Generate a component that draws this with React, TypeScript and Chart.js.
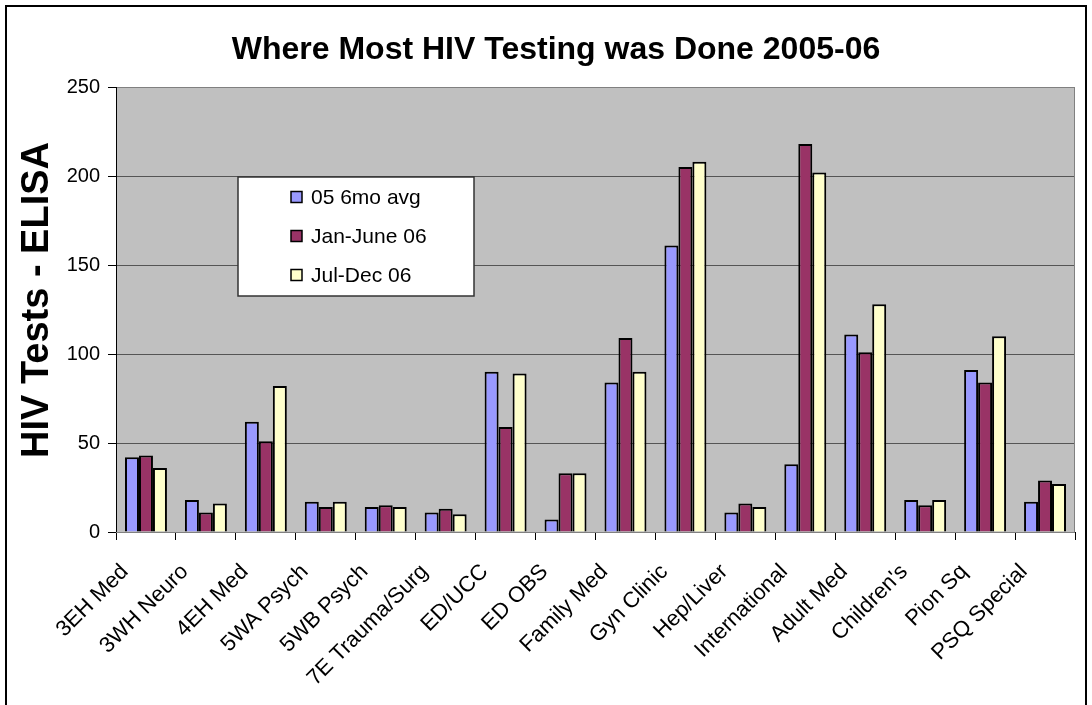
import React, { useEffect, useRef } from "react";
import { Chart, registerables } from "chart.js";

Chart.register(...registerables);

const categories = [
  "3EH Med", "3WH Neuro", "4EH Med", "5WA Psych", "5WB Psych", "7E Trauma/Surg",
  "ED/UCC", "ED OBS", "Family Med", "Gyn Clinic", "Hep/Liver", "International",
  "Adult Med", "Children's", "Pion Sq", "PSQ Special",
];
const series05Avg = [42, 18, 62, 17, 14, 11, 90, 7, 84, 161, 11, 38, 111, 18, 91, 17];
const seriesJanJun06 = [43, 11, 51, 14, 15, 13, 59, 33, 109, 205, 16, 218, 101, 15, 84, 29];
const seriesJulDec06 = [36, 16, 82, 17, 14, 10, 89, 33, 90, 208, 14, 202, 128, 18, 110, 27];
const seriesNames = ["05 6mo avg", "Jan-June 06", "Jul-Dec 06"];
const seriesColors = ["#9999FF", "#993366", "#FFFFCC"];
const yTicks = [0, 50, 100, 150, 200, 250];
const chartTitle = "Where Most HIV Testing was Done 2005-06";
const yTitle = "HIV Tests - ELISA";

const decorPlugin = {
  id: "decor",
  beforeDraw(chart: any) {
    const { ctx, chartArea } = chart;
    ctx.save();
    ctx.fillStyle = "#ffffff";
    ctx.fillRect(0, 0, chart.width, chart.height);
    ctx.fillStyle = "#C0C0C0";
    ctx.fillRect(chartArea.left, chartArea.top, chartArea.right - chartArea.left, chartArea.bottom - chartArea.top);
    ctx.restore();
  },
  afterDraw(chart: any) {
    const { ctx, chartArea } = chart;
    ctx.save();
    // plot area border
    ctx.strokeStyle = "#808080";
    ctx.lineWidth = 1;
    ctx.strokeRect(chartArea.left + 0.5, chartArea.top + 0.5, chartArea.right - chartArea.left - 1, chartArea.bottom - chartArea.top);
    // left axis line
    ctx.strokeStyle = "#000";
    ctx.beginPath();
    ctx.moveTo(chartArea.left + 0.5, chartArea.top);
    ctx.lineTo(chartArea.left + 0.5, chartArea.bottom);
    ctx.stroke();
    // outer frame
    ctx.strokeStyle = "#000";
    ctx.lineWidth = 2;
    ctx.strokeRect(6, 6, 1080, 720);
    // title
    ctx.fillStyle = "#000";
    ctx.font = "bold 32px Arial, 'Liberation Sans', sans-serif";
    ctx.textAlign = "center";
    ctx.textBaseline = "alphabetic";
    ctx.fillText(chartTitle, 556, 59);
    // y axis title
    ctx.save();
    ctx.translate(38, 300);
    ctx.rotate(-Math.PI / 2);
    ctx.font = "bold 38px Arial, 'Liberation Sans', sans-serif";
    ctx.textAlign = "center";
    ctx.textBaseline = "middle";
    ctx.fillText(yTitle, 0, 0);
    ctx.restore();
    // legend
    const lx = 238, ly = 177, lw = 236, lh = 119;
    ctx.fillStyle = "#fff";
    ctx.fillRect(lx, ly, lw, lh);
    ctx.strokeStyle = "#333";
    ctx.lineWidth = 1.5;
    ctx.strokeRect(lx, ly, lw, lh);
    ctx.font = "21px Arial, 'Liberation Sans', sans-serif";
    ctx.textAlign = "left";
    ctx.textBaseline = "middle";
    chart.data.datasets.forEach((ds: any, i: number) => {
      const cy = 197 + i * 39;
      ctx.fillStyle = ds.backgroundColor;
      ctx.fillRect(291, cy - 5.5, 11, 11);
      ctx.strokeStyle = "#000";
      ctx.lineWidth = 1.5;
      ctx.strokeRect(291, cy - 5.5, 11, 11);
      ctx.fillStyle = "#000";
      ctx.fillText(ds.label, 311, cy + 1);
    });
    ctx.restore();
  },
};

export default function App() {
  const ref = useRef<HTMLCanvasElement>(null);
  useEffect(() => {
    const canvas = ref.current;
    if (!canvas) return;
    const values = [series05Avg, seriesJanJun06, seriesJulDec06];
    const chart = new Chart(canvas, {
      type: "bar",
      data: {
        labels: categories,
        datasets: values.map((v, i) => ({
          label: seriesNames[i],
          data: v,
          backgroundColor: seriesColors[i],
          borderColor: "#000",
          borderWidth: 2,
          categoryPercentage: 0.7,
          barPercentage: 1,
        })),
      },
      options: {
        animation: false,
        responsive: false,
        maintainAspectRatio: false,
        layout: { padding: { top: 87, right: 17, left: 0, bottom: 0 } },
        plugins: { legend: { display: false }, title: { display: false }, tooltip: { enabled: false } },
        scales: {
          x: {
            afterFit: (s: any) => { s.height = 173; },
            grid: { offset: true, drawOnChartArea: false, tickLength: 8, tickColor: "#000", color: "#000" },
            border: { color: "#000", width: 1 },
            ticks: {
              color: "#000",
              font: { family: "Arial, 'Liberation Sans', sans-serif", size: 22 },
              minRotation: 45,
              maxRotation: 45,
              autoSkip: false,
              padding: 19,
              labelOffset: -21,
            },
          },
          y: {
            min: 0,
            max: 250,
            afterFit: (s: any) => { s.width = 116; },
            afterBuildTicks: (s: any) => { s.ticks = yTicks.map((v) => ({ value: v })); },
            grid: { color: "#555", lineWidth: 1, tickLength: 8, tickColor: "#000" },
            border: { color: "#000", width: 1 },
            title: { display: false },
            ticks: {
              color: "#000",
              font: { family: "Arial, 'Liberation Sans', sans-serif", size: 20 },
              padding: 8,
            },
          },
        },
      },
      plugins: [decorPlugin],
    });
    return () => chart.destroy();
  }, []);
  return (
    <div style={{ position: "absolute", left: 0, top: 0, width: 1092, height: 705 }}>
      <canvas ref={ref} width={1092} height={705} style={{ width: 1092, height: 705, display: "block" }} />
    </div>
  );
}
